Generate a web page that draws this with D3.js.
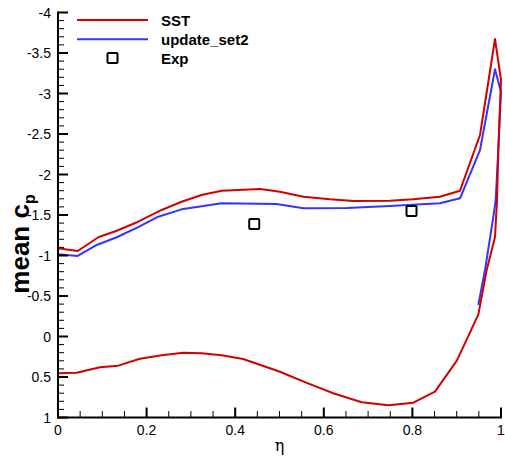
<!DOCTYPE html>
<html><head><meta charset="utf-8">
<script src="https://cdn.jsdelivr.net/npm/d3@7"></script>
<style>body{margin:0;background:#fff}svg{display:block}</style>
</head><body>
<svg id="c" width="505" height="461"></svg>
<script>
// SST (closed loop: upper surface 0→1, then lower surface 1→0)
const sstEta = [0,0.0445,0.091,0.1325,0.181,0.234,0.279,0.324,0.3695,0.456,0.501,0.554,0.614,0.667,0.749,0.802,0.862,0.9075,0.9526,0.9865,1.0,
  0.9939,0.991,0.9865,0.9677,0.9488,0.9,0.851,0.802,0.7456,0.6855,0.6214,0.56,0.501,0.418,0.3695,0.3244,0.283,0.234,0.185,0.136,0.0948,0.0422,0];
const sstCp = [-1.09,-1.056,-1.225,-1.306,-1.417,-1.562,-1.664,-1.747,-1.80,-1.821,-1.788,-1.726,-1.694,-1.673,-1.677,-1.694,-1.726,-1.80,-2.488,-3.673,-3.17,
  -2.302,-1.685,-1.228,-0.821,-0.27,0.30,0.681,0.817,0.849,0.812,0.701,0.57,0.435,0.278,0.232,0.207,0.2,0.232,0.274,0.36,0.38,0.447,0.454];
// update_set2
const updEta = [0,0.0445,0.0874,0.1325,0.181,0.2264,0.279,0.3695,0.4937,0.554,0.6517,0.749,0.862,0.9075,0.9526,0.9865,1.0,
  0.9939,0.988,0.9826,0.9639,0.9488];
const updCp = [-1.015,-0.994,-1.13,-1.225,-1.35,-1.479,-1.57,-1.644,-1.636,-1.583,-1.586,-1.611,-1.644,-1.706,-2.302,-3.299,-3.019,
  -2.302,-1.685,-1.475,-0.821,-0.389];
// Experiment
const expEta = [0.443,0.798];
const expCp = [-1.389,-1.549];
// ticks
const xTicks = [0,0.2,0.4,0.6,0.8,1];
const xTickLabels = ["0","0.2","0.4","0.6","0.8","1"];
const yTicks = [-4,-3.5,-3,-2.5,-2,-1.5,-1,-0.5,0,0.5,1];
const yTickLabels = ["-4","-3.5","-3","-2.5","-2","-1.5","-1","-0.5","0","0.5","1"];
const seriesNames = ["SST","update_set2","Exp"];

const svg = d3.select("#c");
const x = d3.scaleLinear().domain([0,1]).range([58,501]);
const y = d3.scaleLinear().domain([-4,1]).range([12.5,417.5]);
const red = "#d40000", blue = "#3434ff";

const line = d3.line().x(d=>x(d[0])).y(d=>y(d[1]));
svg.append("path").datum(updEta.map((e,i)=>[e,updCp[i]]))
  .attr("d",line).attr("fill","none").attr("stroke",blue).attr("stroke-width",2).attr("stroke-linejoin","round");
svg.append("path").datum(sstEta.map((e,i)=>[e,sstCp[i]]))
  .attr("d",line).attr("fill","none").attr("stroke",red).attr("stroke-width",2).attr("stroke-linejoin","round");

svg.selectAll("rect.exp").data(expEta.map((e,i)=>[e,expCp[i]])).enter().append("rect")
  .attr("x",d=>x(d[0])-5).attr("y",d=>y(d[1])-5).attr("width",10).attr("height",10)
  .attr("rx",1).attr("fill","none").attr("stroke","#000").attr("stroke-width",2);

// axes
const ax = svg.append("g").attr("font-family","Arial, 'Liberation Sans', sans-serif").attr("font-size",14);
// minor ticks
const xMinor = d3.range(0,1.0001,0.05);
ax.selectAll("line.xm").data(xMinor).enter().append("line")
  .attr("x1",d=>x(d)).attr("x2",d=>x(d)).attr("y1",417.5).attr("y2",411).attr("stroke","#000").attr("stroke-width",1);
const yMinor = d3.range(-4,1.0001,0.1);
ax.selectAll("line.ym").data(yMinor).enter().append("line")
  .attr("x1",58).attr("x2",64).attr("y1",d=>y(d)).attr("y2",d=>y(d)).attr("stroke","#000").attr("stroke-width",1);
// major ticks
ax.selectAll("line.xM").data(xTicks).enter().append("line")
  .attr("x1",d=>x(d)).attr("x2",d=>x(d)).attr("y1",417.5).attr("y2",407.5).attr("stroke","#000").attr("stroke-width",2);
ax.selectAll("line.yM").data(yTicks).enter().append("line")
  .attr("x1",58).attr("x2",68).attr("y1",d=>y(d)).attr("y2",d=>y(d)).attr("stroke","#000").attr("stroke-width",2);
// axis lines
ax.append("line").attr("x1",58).attr("x2",58).attr("y1",11.5).attr("y2",418.5).attr("stroke","#000").attr("stroke-width",2);
ax.append("line").attr("x1",57).attr("x2",502).attr("y1",417.5).attr("y2",417.5).attr("stroke","#000").attr("stroke-width",2);
// labels
ax.selectAll("text.xl").data(xTicks).enter().append("text")
  .attr("x",d=>x(d)).attr("y",434.5).attr("text-anchor","middle").text((d,i)=>xTickLabels[i]);
ax.selectAll("text.yl").data(yTicks).enter().append("text")
  .attr("x",51).attr("y",d=>y(d)+5).attr("text-anchor","end").text((d,i)=>yTickLabels[i]);

// axis titles
svg.append("text").attr("x",279.5).attr("y",451).attr("text-anchor","middle")
  .attr("font-family","'DejaVu Serif', serif").attr("font-size",16).text("η");
const yt = svg.append("text").attr("transform","translate(29,244) rotate(-90)").attr("text-anchor","middle")
  .attr("font-family","Arial, 'Liberation Sans', sans-serif").attr("font-size",26).attr("font-weight","bold");
yt.append("tspan").text("mean c");
yt.append("tspan").attr("font-size",16).attr("dy",6).text("p");

// legend
const lg = svg.append("g").attr("font-family","Arial, 'Liberation Sans', sans-serif").attr("font-size",15).attr("font-weight","bold");
lg.append("line").attr("x1",77).attr("x2",148).attr("y1",20).attr("y2",20).attr("stroke",red).attr("stroke-width",2);
lg.append("line").attr("x1",77).attr("x2",148).attr("y1",39.3).attr("y2",39.3).attr("stroke",blue).attr("stroke-width",2);
lg.append("rect").attr("x",107.5).attr("y",53).attr("width",10).attr("height",10).attr("rx",1).attr("fill","none").attr("stroke","#000").attr("stroke-width",2);
lg.selectAll("text").data(seriesNames).enter().append("text")
  .attr("x",161).attr("y",(d,i)=>25.5+i*19.3).text(d=>d);
</script>
</body></html>
